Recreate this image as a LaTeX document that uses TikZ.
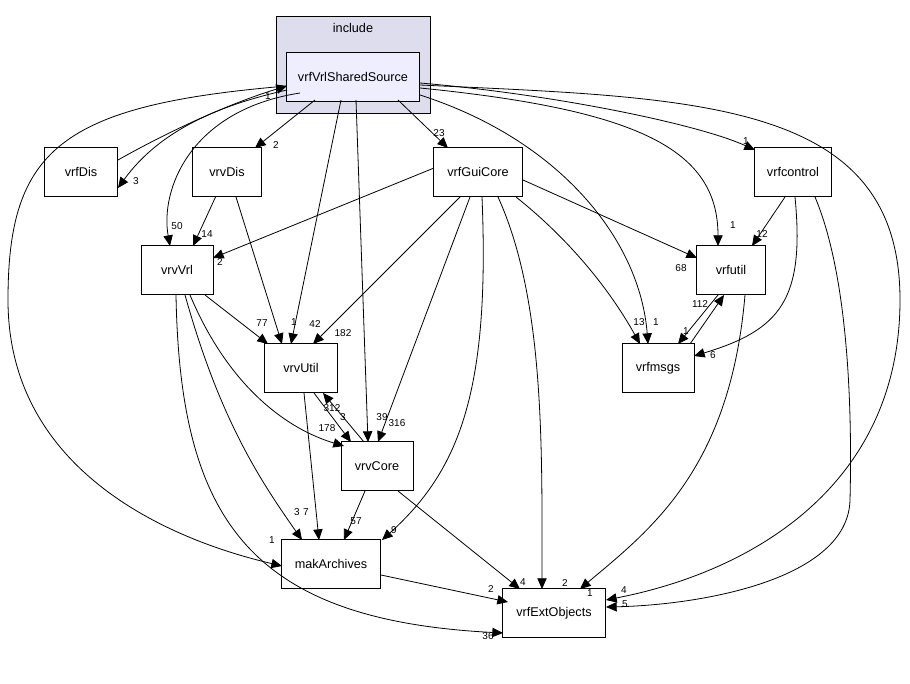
\documentclass[tikz,border=0pt]{standalone}
\usepackage{fontspec}
\setmainfont{Liberation Sans}
\usetikzlibrary{arrows.meta}
\definecolor{clusterfill}{HTML}{DDDDEE}
\definecolor{mainfill}{HTML}{EEEEFF}
\tikzset{
  dir/.style={draw, fill=white, minimum width=#1, minimum height=36.75pt, inner sep=0pt, font=\fontsize{9.5}{11}\selectfont},
  dir/.default=52pt,
  dep/.style={-{Triangle[length=8pt,width=7pt]}, line width=0.6pt},
  lab/.style={font=\fontsize{7.5}{9}\selectfont, inner sep=0pt}
}
\begin{document}
\begin{tikzpicture}[x=0.75pt, y=-0.75pt]
        \useasboundingbox (0, 0) rectangle (910, 684);
        % cluster
        \draw[fill=clusterfill] (276, 16) rectangle (430, 113);
        \node[font=\fontsize{9.5}{11}\selectfont] at (353, 28) {include};

        % directories
        \node[dir=100pt, fill=mainfill] (shared) at (353, 77) {vrfVrlSharedSource};
        \node[dir=55pt] (vrfdis) at (81, 172) {vrfDis};
        \node[dir] (vrvdis) at (227, 172) {vrvDis};
        \node[dir=67pt] (guicore) at (478, 172) {vrfGuiCore};
        \node[dir=58pt] (control) at (793, 172) {vrfcontrol};
        \node[dir=54pt] (vrvvrl) at (177, 270) {vrvVrl};
        \node[dir] (vrfutil) at (731, 270) {vrfutil};
        \node[dir=55pt] (vrvutil) at (301, 368) {vrvUtil};
        \node[dir=54pt] (vrfmsgs) at (658, 368) {vrfmsgs};
        \node[dir=54pt] (vrvcore) at (377, 466) {vrvCore};
        \node[dir=74pt] (makarch) at (331, 564) {makArchives};
        \node[dir=77pt] (extobj) at (554, 613) {vrfExtObjects};

        % from vrfVrlSharedSource
        \draw[dep] (287, 90) .. controls (220, 105) and (160, 130) .. (118, 188) node[lab] at (136, 181) {3};
        \draw[dep] (118, 160) .. controls (180, 125) and (240, 100) .. (287, 86) node[lab] at (268, 96) {1};
        \draw[dep] (315, 100) -- (255, 148) node[lab] at (276, 145) {2};
        \draw[dep] (398, 100) -- (448, 148) node[lab] at (439, 133) {23};
        \draw[dep] (420, 83) .. controls (560, 95) and (700, 125) .. (755, 150) node[lab] at (746, 141) {1};
        \draw[dep] (420, 88) .. controls (640, 110) and (718, 150) .. (718, 246) node[lab] at (733, 225) {1};
        \draw[dep] (420, 95) .. controls (560, 140) and (640, 240) .. (648, 344) node[lab] at (656, 322) {1};
        \draw[dep] (341, 100) -- (291, 344) node[lab] at (315, 324) {42};
        \draw[dep] (356, 100) -- (368, 442) node[lab] at (382, 417) {39};
        \draw[dep] (300, 93) .. controls (190, 110) and (160, 190) .. (170, 246) node[lab] at (177, 226) {50};
        \draw[dep] (287, 86) .. controls (60, 105) and (8, 150) .. (8, 300)
                   .. controls (8, 460) and (150, 535) .. (282, 566) node[lab] at (272, 540) {1};
        \draw[dep] (420, 85) .. controls (700, 98) and (900, 100) .. (900, 300)
                   .. controls (900, 480) and (760, 570) .. (606, 600) node[lab] at (624, 590) {4};

        % from vrvDis
        \draw[dep] (vrvdis) -- (193, 246) node[lab] at (207, 234) {14};
        \draw[dep] (236, 197) -- (282, 344) node[lab] at (294, 322) {1};

        % from vrfGuiCore
        \draw[dep] (434, 168) -- (213, 258) node[lab] at (220, 262) {2};
        \draw[dep] (523, 180) -- (697, 258) node[lab] at (681, 268) {68};
        \draw[dep] (516, 197) .. controls (570, 240) and (610, 290) .. (640, 344) node[lab] at (639, 322) {13};
        \draw[dep] (460, 197) -- (313, 344) node[lab] at (343, 333) {182};
        \draw[dep] (470, 197) -- (378, 442) node[lab] at (397, 423) {316};
        \draw[dep] (482, 197) .. controls (490, 390) and (460, 470) .. (382, 540) node[lab] at (394, 530) {9};
        \draw[dep] (498, 197) .. controls (545, 300) and (542, 450) .. (542, 589) node[lab] at (565, 583) {2};

        % from vrfcontrol
        \draw[dep] (785, 197) -- (752, 246) node[lab] at (762, 234) {12};
        \draw[dep] (795, 197) .. controls (805, 300) and (780, 330) .. (694, 356) node[lab] at (713, 355) {6};
        \draw[dep] (815, 197) .. controls (850, 280) and (852, 420) .. (850, 500)
                   .. controls (848, 580) and (700, 605) .. (606, 607) node[lab] at (625, 604) {5};

        % from vrvVrl
        \draw[dep] (205, 295) -- (268, 344) node[lab] at (262, 323) {77};
        \draw[dep] (190, 295) .. controls (230, 390) and (290, 430) .. (344, 446) node[lab] at (327, 428) {178};
        \draw[dep] (185, 295) .. controls (220, 420) and (260, 480) .. (302, 540) node[lab] at (297, 512) {3};
        \draw[dep] (176, 295) .. controls (180, 520) and (250, 620) .. (503, 633) node[lab] at (488, 636) {36};

        % remaining
        \draw[dep] (718, 295) -- (678, 344) node[lab] at (686, 331) {1};
        \draw[dep] (690, 344) -- (724, 295) node[lab] at (700, 304) {112};
        \draw[dep] (745, 295) .. controls (730, 470) and (650, 530) .. (580, 589) node[lab] at (590, 593) {1};
        \draw[dep] (314, 393) -- (351, 442) node[lab] at (343, 417) {3};
        \draw[dep] (364, 442) -- (323, 393) node[lab] at (332, 408) {312};
        \draw[dep] (304, 393) -- (319, 540) node[lab] at (306, 512) {7};
        \draw[dep] (365, 491) -- (344, 540) node[lab] at (356, 521) {57};
        \draw[dep] (398, 491) -- (520, 589) node[lab] at (523, 582) {4};
        \draw[dep] (381, 575) -- (508, 602) node[lab] at (491, 589) {2};
\end{tikzpicture}
\end{document}
